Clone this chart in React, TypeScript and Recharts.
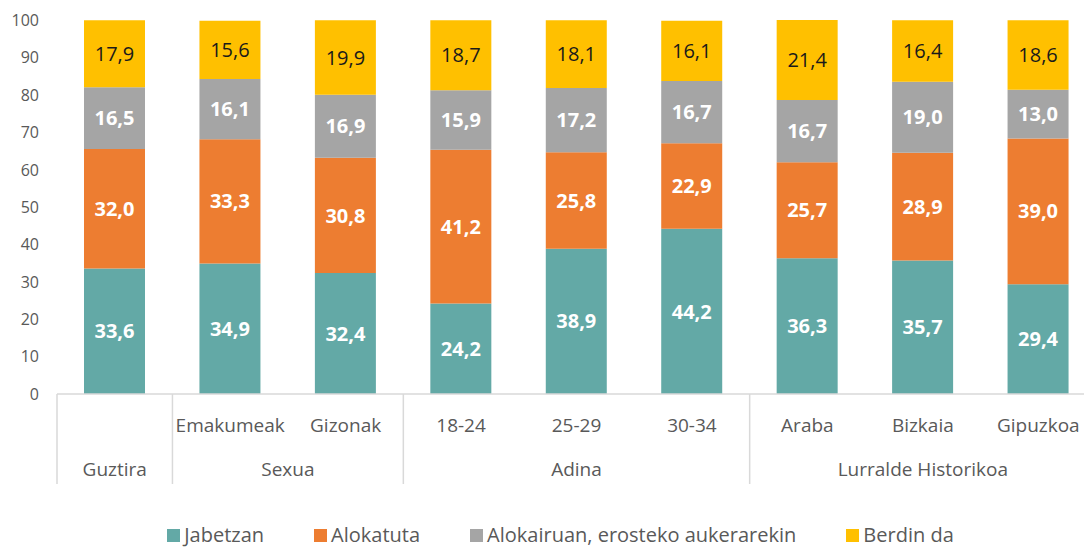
import { Bar, BarChart, LabelList, Legend, XAxis, YAxis } from "recharts";

const categories = ["Guztira", "Emakumeak", "Gizonak", "18-24", "25-29", "30-34", "Araba", "Bizkaia", "Gipuzkoa"];
const tickLabels = ["", "Emakumeak", "Gizonak", "18-24", "25-29", "30-34", "Araba", "Bizkaia", "Gipuzkoa"];

const groups = [
  { name: "Guztira", start: 0, count: 1 },
  { name: "Sexua", start: 1, count: 2 },
  { name: "Adina", start: 3, count: 3 },
  { name: "Lurralde Historikoa", start: 6, count: 3 },
];

const jabetzan = [33.6, 34.9, 32.4, 24.2, 38.9, 44.2, 36.3, 35.7, 29.4];
const alokatuta = [32.0, 33.3, 30.8, 41.2, 25.8, 22.9, 25.7, 28.9, 39.0];
const alokairuan = [16.5, 16.1, 16.9, 15.9, 17.2, 16.7, 16.7, 19.0, 13.0];
const berdin = [17.9, 15.6, 19.9, 18.7, 18.1, 16.1, 21.4, 16.4, 18.6];

const yTicks = [0, 10, 20, 30, 40, 50, 60, 70, 80, 90, 100];

const series = [
  { key: "jabetzan", name: "Jabetzan", color: "#63A9A6", label: "#ffffff", bold: true },
  { key: "alokatuta", name: "Alokatuta", color: "#ED7D31", label: "#ffffff", bold: true },
  { key: "alokairuan", name: "Alokairuan, erosteko aukerarekin", color: "#A5A5A5", label: "#ffffff", bold: true },
  { key: "berdin", name: "Berdin da", color: "#FFC000", label: "#1a1a1a", bold: false },
];

const data = categories.map((c, i) => ({
  name: c,
  jabetzan: jabetzan[i],
  alokatuta: alokatuta[i],
  alokairuan: alokairuan[i],
  berdin: berdin[i],
}));

const FONT = "'Open Sans', sans-serif";
const AXIS_Y = 394;
const fmt = (v: any) => Number(v).toFixed(1).replace(".", ",");

function CategoryTick(props: any) {
  const { x, payload, index } = props;
  const half = payload?.offset || 57.7;
  const step = half * 2;
  const i = index ?? payload?.index ?? 0;
  const group = groups.find((g) => g.start === i);
  const isLast = i === categories.length - 1;
  return (
    <g>
      {tickLabels[i] && (
        <text x={x} y={425} textAnchor="middle" dominantBaseline="central" fill="#595959" fontSize={19} fontFamily={FONT}>
          {tickLabels[i]}
        </text>
      )}
      {group && (
        <>
          <line x1={x - half} x2={x - half} y1={AXIS_Y} y2={484} stroke="#D9D9D9" strokeWidth={1.5} />
          <text
            x={x + ((group.count - 1) * step) / 2}
            y={469}
            textAnchor="middle"
            dominantBaseline="central"
            fill="#595959"
            fontSize={19}
            fontFamily={FONT}
          >
            {group.name}
          </text>
        </>
      )}
      {isLast && <line x1={x + half} x2={x + half} y1={AXIS_Y} y2={484} stroke="#D9D9D9" strokeWidth={1.5} />}
    </g>
  );
}

function LegendContent() {
  return (
    <div
      style={{
        width: 1096,
        height: 36,
        boxSizing: "border-box",
        paddingLeft: 25,
        paddingBottom: 3,
        display: "flex",
        justifyContent: "center",
        alignItems: "flex-end",
        gap: 50,
        fontFamily: FONT,
        fontSize: 20,
        color: "#595959",
      }}
    >
      {series.map((s) => (
        <div key={s.key} style={{ display: "flex", alignItems: "center", lineHeight: "24px" }}>
          <span style={{ width: 13, height: 13, background: s.color, display: "inline-block", marginRight: 4 }} />
          <span>{s.name}</span>
        </div>
      ))}
    </div>
  );
}

export default function App() {
  return (
    <div style={{ position: "absolute", left: 0, top: 0, width: 1084, height: 550, overflow: "hidden", background: "#fff" }}>
      <BarChart width={1096} height={550} data={data} margin={{ top: 20, right: 0, left: 0, bottom: 0 }} barSize={61}>
        <XAxis
          dataKey="name"
          interval={0}
          height={120}
          axisLine={{ stroke: "#D9D9D9", strokeWidth: 1.5 }}
          tickLine={false}
          tick={<CategoryTick />}
        />
        <YAxis
          width={57}
          domain={[0, 100]}
          ticks={yTicks}
          axisLine={false}
          tickLine={false}
          tickMargin={12}
          tick={{ fill: "#595959", fontSize: 16, fontFamily: FONT }}
        />
        <Legend verticalAlign="bottom" content={<LegendContent />} />
        {series.map((s) => (
          <Bar key={s.key} dataKey={s.key} name={s.name} stackId="a" fill={s.color} isAnimationActive={false}>
            <LabelList
              dataKey={s.key}
              position="center"
              formatter={fmt}
              fill={s.label}
              fontSize={20}
              fontWeight={s.bold ? 700 : 400}
              fontFamily={FONT}
            />
          </Bar>
        ))}
      </BarChart>
    </div>
  );
}
